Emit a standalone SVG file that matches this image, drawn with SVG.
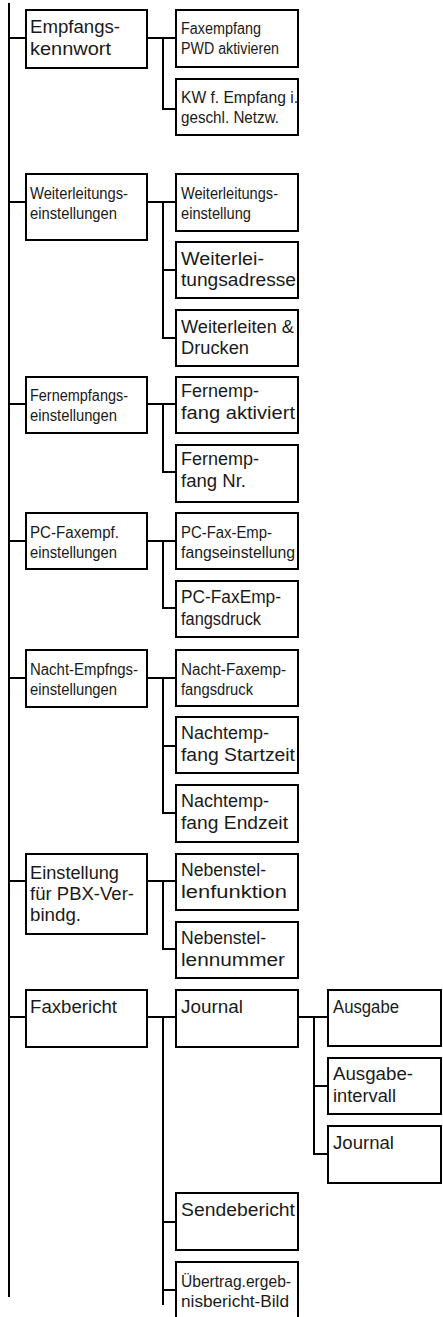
<svg xmlns="http://www.w3.org/2000/svg" width="443" height="1317" viewBox="0 0 443 1317">
<style>
rect.b{fill:#fff;stroke:#000;stroke-width:2}
.c line{stroke:#000;stroke-width:2;fill:none}
text{font-family:"Liberation Sans",Arial,sans-serif;fill:#1a1a1a}
text.n{font-size:17.5px}
text.s{font-size:16px}
</style>
<rect width="443" height="1317" fill="#fff"/>
<g class="c" id="connectors">
<line x1="9" y1="3" x2="9" y2="1297"/>
<line x1="9" y1="38" x2="26" y2="38"/>
<line x1="9" y1="202" x2="26" y2="202"/>
<line x1="9" y1="404" x2="26" y2="404"/>
<line x1="9" y1="541" x2="26" y2="541"/>
<line x1="9" y1="678" x2="26" y2="678"/>
<line x1="9" y1="881" x2="26" y2="881"/>
<line x1="9" y1="1017" x2="26" y2="1017"/>
<line x1="147" y1="38" x2="176" y2="38"/>
<line x1="147" y1="202" x2="176" y2="202"/>
<line x1="147" y1="404" x2="176" y2="404"/>
<line x1="147" y1="541" x2="176" y2="541"/>
<line x1="147" y1="678" x2="176" y2="678"/>
<line x1="147" y1="881" x2="176" y2="881"/>
<line x1="147" y1="1017" x2="176" y2="1017"/>
<line x1="163" y1="37" x2="163" y2="110"/>
<line x1="162" y1="109" x2="176" y2="109"/>
<line x1="163" y1="201" x2="163" y2="339"/>
<line x1="162" y1="270" x2="176" y2="270"/>
<line x1="162" y1="338" x2="176" y2="338"/>
<line x1="163" y1="403" x2="163" y2="473"/>
<line x1="162" y1="472" x2="176" y2="472"/>
<line x1="163" y1="540" x2="163" y2="609"/>
<line x1="162" y1="608" x2="176" y2="608"/>
<line x1="163" y1="677" x2="163" y2="814"/>
<line x1="162" y1="746" x2="176" y2="746"/>
<line x1="162" y1="813" x2="176" y2="813"/>
<line x1="163" y1="880" x2="163" y2="950"/>
<line x1="162" y1="949" x2="176" y2="949"/>
<line x1="163" y1="1016" x2="163" y2="1305"/>
<line x1="162" y1="1222" x2="176" y2="1222"/>
<line x1="162" y1="1290" x2="176" y2="1290"/>
<line x1="298" y1="1017" x2="328" y2="1017"/>
<line x1="314" y1="1016" x2="314" y2="1155"/>
<line x1="313" y1="1086" x2="328" y2="1086"/>
<line x1="313" y1="1154" x2="328" y2="1154"/>
</g>
<g id="empfangskennwort"><rect class="b" x="26" y="10" width="121" height="58"/><text class="n" x="30" y="33" textLength="90" lengthAdjust="spacingAndGlyphs">Empfangs-</text><text class="n" x="30" y="55" textLength="81" lengthAdjust="spacingAndGlyphs">kennwort</text></g>
<g id="faxempfang-pwd"><rect class="b" x="176" y="10" width="122" height="57"/><text class="s" x="181" y="34" textLength="80" lengthAdjust="spacingAndGlyphs">Faxempfang</text><text class="s" x="181" y="54" textLength="98" lengthAdjust="spacingAndGlyphs">PWD aktivieren</text></g>
<g id="kw-empfang"><rect class="b" x="176" y="79" width="122" height="56"/><text class="s" x="181" y="103" textLength="117" lengthAdjust="spacingAndGlyphs">KW f. Empfang i.</text><text class="s" x="181" y="123" textLength="98" lengthAdjust="spacingAndGlyphs">geschl. Netzw.</text></g>

<g id="weiterleitungseinstellungen"><rect class="b" x="26" y="174" width="121" height="66"/><text class="s" x="30" y="199" textLength="98" lengthAdjust="spacingAndGlyphs">Weiterleitungs-</text><text class="s" x="30" y="219" textLength="87" lengthAdjust="spacingAndGlyphs">einstellungen</text></g>
<g id="weiterleitungseinstellung"><rect class="b" x="176" y="174" width="122" height="57"/><text class="s" x="181" y="199" textLength="97" lengthAdjust="spacingAndGlyphs">Weiterleitungs-</text><text class="s" x="181" y="219" textLength="70" lengthAdjust="spacingAndGlyphs">einstellung</text></g>
<g id="weiterleitungsadresse"><rect class="b" x="176" y="242" width="122" height="56"/><text class="n" x="181" y="265" textLength="83" lengthAdjust="spacingAndGlyphs">Weiterlei-</text><text class="n" x="181" y="286" textLength="115" lengthAdjust="spacingAndGlyphs">tungsadresse</text></g>
<g id="weiterleiten-drucken"><rect class="b" x="176" y="310" width="122" height="56"/><text class="n" x="181" y="333" textLength="113" lengthAdjust="spacingAndGlyphs">Weiterleiten &amp;</text><text class="n" x="181" y="354" textLength="68" lengthAdjust="spacingAndGlyphs">Drucken</text></g>

<g id="fernempfangseinstellungen"><rect class="b" x="26" y="377" width="121" height="56"/><text class="s" x="30" y="401" textLength="98" lengthAdjust="spacingAndGlyphs">Fernempfangs-</text><text class="s" x="30" y="421" textLength="87" lengthAdjust="spacingAndGlyphs">einstellungen</text></g>
<g id="fernempfang-aktiviert"><rect class="b" x="176" y="377" width="122" height="56"/><text class="n" x="181" y="397" textLength="78" lengthAdjust="spacingAndGlyphs">Fernemp-</text><text class="n" x="181" y="419" textLength="114" lengthAdjust="spacingAndGlyphs">fang aktiviert</text></g>
<g id="fernempfang-nr"><rect class="b" x="176" y="445" width="122" height="57"/><text class="n" x="181" y="465" textLength="78" lengthAdjust="spacingAndGlyphs">Fernemp-</text><text class="n" x="181" y="487" textLength="65" lengthAdjust="spacingAndGlyphs">fang Nr.</text></g>

<g id="pc-faxempf-einstellungen"><rect class="b" x="26" y="513" width="121" height="56"/><text class="s" x="30" y="538" textLength="89" lengthAdjust="spacingAndGlyphs">PC-Faxempf.</text><text class="s" x="30" y="558" textLength="87" lengthAdjust="spacingAndGlyphs">einstellungen</text></g>
<g id="pc-fax-empfangseinstellung"><rect class="b" x="176" y="513" width="122" height="56"/><text class="s" x="181" y="538" textLength="91" lengthAdjust="spacingAndGlyphs">PC-Fax-Emp-</text><text class="s" x="181" y="558" textLength="114" lengthAdjust="spacingAndGlyphs">fangseinstellung</text></g>
<g id="pc-faxempfangsdruck"><rect class="b" x="176" y="581" width="122" height="56"/><text class="n" x="181" y="603" textLength="100" lengthAdjust="spacingAndGlyphs">PC-FaxEmp-</text><text class="n" x="181" y="625" textLength="80" lengthAdjust="spacingAndGlyphs">fangsdruck</text></g>

<g id="nacht-empfngseinstellungen"><rect class="b" x="26" y="650" width="121" height="57"/><text class="s" x="30" y="675" textLength="108" lengthAdjust="spacingAndGlyphs">Nacht-Empfngs-</text><text class="s" x="30" y="695" textLength="87" lengthAdjust="spacingAndGlyphs">einstellungen</text></g>
<g id="nacht-faxempfangsdruck"><rect class="b" x="176" y="650" width="122" height="56"/><text class="s" x="181" y="675" textLength="105" lengthAdjust="spacingAndGlyphs">Nacht-Faxemp-</text><text class="s" x="181" y="695" textLength="72" lengthAdjust="spacingAndGlyphs">fangsdruck</text></g>
<g id="nachtempfang-startzeit"><rect class="b" x="176" y="717" width="122" height="56"/><text class="n" x="181" y="739" textLength="88" lengthAdjust="spacingAndGlyphs">Nachtemp-</text><text class="n" x="181" y="761" textLength="114" lengthAdjust="spacingAndGlyphs">fang Startzeit</text></g>
<g id="nachtempfang-endzeit"><rect class="b" x="176" y="785" width="122" height="57"/><text class="n" x="181" y="807" textLength="88" lengthAdjust="spacingAndGlyphs">Nachtemp-</text><text class="n" x="181" y="829" textLength="107" lengthAdjust="spacingAndGlyphs">fang Endzeit</text></g>

<g id="einstellung-pbx"><rect class="b" x="26" y="854" width="121" height="80"/><text class="n" x="30" y="879" textLength="89" lengthAdjust="spacingAndGlyphs">Einstellung</text><text class="n" x="30" y="900" textLength="104" lengthAdjust="spacingAndGlyphs">für PBX-Ver-</text><text class="n" x="30" y="921" textLength="51" lengthAdjust="spacingAndGlyphs">bindg.</text></g>
<g id="nebenstellenfunktion"><rect class="b" x="176" y="854" width="122" height="56"/><text class="n" x="181" y="876" textLength="85" lengthAdjust="spacingAndGlyphs">Nebenstel-</text><text class="n" x="181" y="898" textLength="106" lengthAdjust="spacingAndGlyphs">lenfunktion</text></g>
<g id="nebenstellennummer"><rect class="b" x="176" y="922" width="122" height="56"/><text class="n" x="181" y="944" textLength="85" lengthAdjust="spacingAndGlyphs">Nebenstel-</text><text class="n" x="181" y="966" textLength="104" lengthAdjust="spacingAndGlyphs">lennummer</text></g>

<g id="faxbericht"><rect class="b" x="26" y="990" width="121" height="57"/><text class="n" x="30" y="1013" textLength="87" lengthAdjust="spacingAndGlyphs">Faxbericht</text></g>
<g id="journal"><rect class="b" x="176" y="990" width="122" height="57"/><text class="n" x="181" y="1013" textLength="62" lengthAdjust="spacingAndGlyphs">Journal</text></g>
<g id="ausgabe"><rect class="b" x="328" y="990" width="113" height="56"/><text class="n" x="333" y="1013" textLength="66" lengthAdjust="spacingAndGlyphs">Ausgabe</text></g>
<g id="ausgabe-intervall"><rect class="b" x="328" y="1058" width="113" height="56"/><text class="n" x="333" y="1080" textLength="80" lengthAdjust="spacingAndGlyphs">Ausgabe-</text><text class="n" x="333" y="1102" textLength="63" lengthAdjust="spacingAndGlyphs">intervall</text></g>
<g id="journal-2"><rect class="b" x="328" y="1126" width="113" height="57"/><text class="n" x="333" y="1149" textLength="61" lengthAdjust="spacingAndGlyphs">Journal</text></g>
<g id="sendebericht"><rect class="b" x="176" y="1193" width="122" height="57"/><text class="n" x="181" y="1216" textLength="114" lengthAdjust="spacingAndGlyphs">Sendebericht</text></g>
<g id="uebertragsergebnisbericht-bild"><rect class="b" x="176" y="1262" width="122" height="60"/><text class="s" x="181" y="1287" textLength="110" lengthAdjust="spacingAndGlyphs">Übertrag.ergeb-</text><text class="s" x="181" y="1307" textLength="108" lengthAdjust="spacingAndGlyphs">nisbericht-Bild</text></g>
</svg>
